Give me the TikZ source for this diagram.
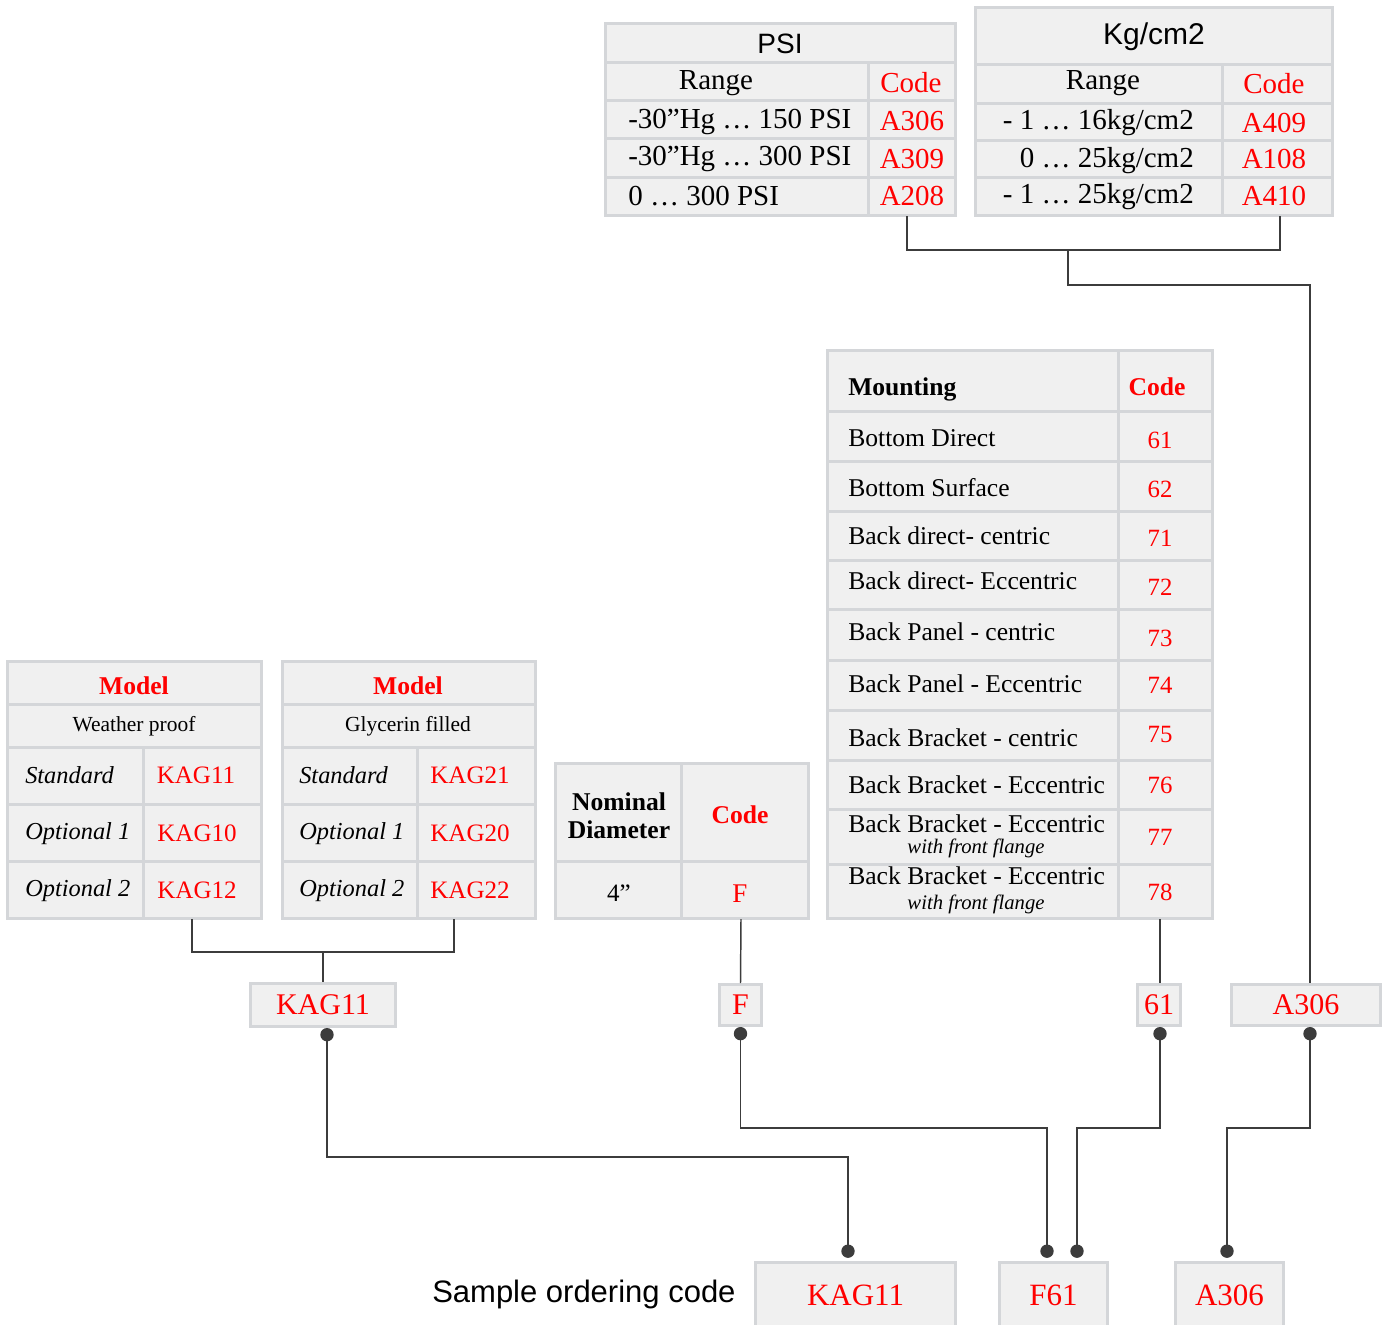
\documentclass[tikz,border=0pt]{standalone}
\usepackage{fontspec}
\setmainfont{Liberation Serif}
\newfontfamily\headsans{Liberation Sans}
\usetikzlibrary{arrows.meta}
\definecolor{cellfill}{RGB}{240,240,240}
\definecolor{cellline}{RGB}{212,214,217}
\definecolor{wiregray}{RGB}{60,60,60}
\definecolor{codered}{RGB}{255,0,0}

\begin{document}
\begin{tikzpicture}[x=0.75pt,y=0.75pt,yscale=-1,xscale=1,
  tablebox/.style={draw=cellline,fill=cellfill,line width=2.25pt},
  rule/.style={draw=cellline,line width=2.25pt},
  wire/.style={draw=wiregray,line width=1.1pt},
  link/.style={wire,{Circle[length=10pt]}-{Circle[length=10pt]},shorten >=2pt},
  headtxt/.style={anchor=base,inner sep=0pt},
  rangetxt/.style={anchor=base,inner sep=0pt,font=\fontsize{21.75}{26}\selectfont},
  rangecode/.style={rangetxt,text=codered},
  mounttxt/.style={anchor=base west,inner sep=0pt,font=\fontsize{19.2}{23}\selectfont},
  mountnote/.style={anchor=base,inner sep=0pt,font=\fontsize{15.5}{18}\selectfont\itshape},
  mountcode/.style={anchor=base,inner sep=0pt,text=codered,font=\fontsize{18.6}{22}\selectfont},
  boldtxt/.style={anchor=base,inner sep=0pt,font=\fontsize{19.2}{23}\selectfont\bfseries},
  modeltxt/.style={anchor=base west,inner sep=0pt,font=\fontsize{18.3}{22}\selectfont\itshape},
  modelcode/.style={anchor=base,inner sep=0pt,text=codered,font=\fontsize{18.8}{22}\selectfont},
  selbox/.style={draw=cellline,fill=cellfill,line width=2.25pt,text=codered,inner sep=0pt,font=\fontsize{22.5}{27}\selectfont},
  outbox/.style={selbox,font=\fontsize{23.25}{28}\selectfont}]

\useasboundingbox (0,0) rectangle (1386,1325);

% PSI table
\draw [tablebox] (605,23) rectangle (955,215) ;
\draw [rule] (605,62) -- (955,62) ;
\draw [rule] (605,100) -- (955,100) ;
\draw [rule] (605,138) -- (955,138) ;
\draw [rule] (605,177) -- (955,177) ;
\draw [rule] (868,62) -- (868,215) ;

\draw (780,53) node (psihead) [headtxt,font=\fontsize{21}{25}\headsans] {PSI};
\draw (716,89) node (psirange) [rangetxt] {Range};
\draw (911,92) node (psicode) [rangecode] {Code};
\draw (628,128) node (psiA) [rangetxt,anchor=base west] {-30”Hg … 150 PSI};
\draw (628,165) node (psiB) [rangetxt,anchor=base west] {-30”Hg … 300 PSI};
\draw (628,205) node (psiC) [rangetxt,anchor=base west] {0 … 300 PSI};
\draw (912,130) node (psicA) [rangecode] {A306};
\draw (912,168) node (psicB) [rangecode] {A309};
\draw (912,205) node (psicC) [rangecode] {A208};

% Kg/cm2 table
\draw [tablebox] (975,7) rectangle (1332,215) ;
\draw [rule] (975,64) -- (1332,64) ;
\draw [rule] (975,103) -- (1332,103) ;
\draw [rule] (975,140) -- (1332,140) ;
\draw [rule] (975,177) -- (1332,177) ;
\draw [rule] (1222,64) -- (1222,215) ;

\draw (1154,44) node (kghead) [headtxt,font=\fontsize{22.5}{27}\headsans] {Kg/cm2};
\draw (1103,89) node (kgrange) [rangetxt] {Range};
\draw (1274,93) node (kgcode) [rangecode] {Code};
\draw (1194,129) node (kgA) [rangetxt,anchor=base east] {- 1 … 16kg/cm2};
\draw (1194,167) node (kgB) [rangetxt,anchor=base east] {0 … 25kg/cm2};
\draw (1194,203) node (kgC) [rangetxt,anchor=base east] {- 1 … 25kg/cm2};
\draw (1274,132) node (kgcA) [rangecode] {A409};
\draw (1274,168) node (kgcB) [rangecode] {A108};
\draw (1274,205) node (kgcC) [rangecode] {A410};

% Mounting table
\draw [tablebox] (827,350) rectangle (1212,918) ;
\draw [rule] (827,411) -- (1212,411) ;
\draw [rule] (827,461) -- (1212,461) ;
\draw [rule] (827,511) -- (1212,511) ;
\draw [rule] (827,560) -- (1212,560) ;
\draw [rule] (827,609) -- (1212,609) ;
\draw [rule] (827,660) -- (1212,660) ;
\draw [rule] (827,710) -- (1212,710) ;
\draw [rule] (827,760) -- (1212,760) ;
\draw [rule] (827,809) -- (1212,809) ;
\draw [rule] (827,864) -- (1212,864) ;
\draw [rule] (1118,350) -- (1118,918) ;

\draw (848,395) node (mhead) [boldtxt,anchor=base west] {Mounting};
\draw (1157,395) node (mcode) [boldtxt,text=codered] {Code};
\draw (848,446) node (mA) [mounttxt] {Bottom Direct};
\draw (848,496) node (mB) [mounttxt] {Bottom Surface};
\draw (848,544) node (mC) [mounttxt] {Back direct- centric};
\draw (848,589) node (mD) [mounttxt] {Back direct- Eccentric};
\draw (848,640) node (mE) [mounttxt] {Back Panel - centric};
\draw (848,692) node (mF) [mounttxt] {Back Panel - Eccentric};
\draw (848,746) node (mG) [mounttxt] {Back Bracket - centric};
\draw (848,793) node (mH) [mounttxt] {Back Bracket - Eccentric};
\draw (848,832) node (mI) [mounttxt] {Back Bracket - Eccentric};
\draw (976,853) node (mInote) [mountnote] {with front flange};
\draw (848,884) node (mJ) [mounttxt] {Back Bracket - Eccentric};
\draw (976,909) node (mJnote) [mountnote] {with front flange};
\draw (1160,448) node (mcA) [mountcode] {61};
\draw (1160,497) node (mcB) [mountcode] {62};
\draw (1160,546) node (mcC) [mountcode] {71};
\draw (1160,595) node (mcD) [mountcode] {72};
\draw (1160,646) node (mcE) [mountcode] {73};
\draw (1160,693) node (mcF) [mountcode] {74};
\draw (1160,742) node (mcG) [mountcode] {75};
\draw (1160,793) node (mcH) [mountcode] {76};
\draw (1160,845) node (mcI) [mountcode] {77};
\draw (1160,900) node (mcJ) [mountcode] {78};

% Model tables
\draw [tablebox] (7,661) rectangle (261,918) ;
\draw [rule] (7,704) -- (261,704) ;
\draw [rule] (7,747) -- (261,747) ;
\draw [rule] (7,804) -- (261,804) ;
\draw [rule] (7,861) -- (261,861) ;
\draw [rule] (143,747) -- (143,918) ;

\draw (134,694) node (wphead) [boldtxt,text=codered] {Model};
\draw (134,731) node (wpname) [headtxt,font=\fontsize{16.1}{19}\selectfont] {Weather proof};
\draw (25,783) node (wpA) [modeltxt] {Standard};
\draw (25,839) node (wpB) [modeltxt] {Optional 1};
\draw (25,896) node (wpC) [modeltxt] {Optional 2};
\draw (196,783) node (wpcA) [modelcode] {KAG11};
\draw (197,841) node (wpcB) [modelcode] {KAG10};
\draw (197,898) node (wpcC) [modelcode] {KAG12};

\draw [tablebox] (282,661) rectangle (535,918) ;
\draw [rule] (282,704) -- (535,704) ;
\draw [rule] (282,747) -- (535,747) ;
\draw [rule] (282,804) -- (535,804) ;
\draw [rule] (282,861) -- (535,861) ;
\draw [rule] (417,747) -- (417,918) ;

\draw (408,694) node (gfhead) [boldtxt,text=codered] {Model};
\draw (408,731) node (gfname) [headtxt,font=\fontsize{16.1}{19}\selectfont] {Glycerin filled};
\draw (299,783) node (gfA) [modeltxt] {Standard};
\draw (299,839) node (gfB) [modeltxt] {Optional 1};
\draw (299,896) node (gfC) [modeltxt] {Optional 2};
\draw (470,783) node (gfcA) [modelcode] {KAG21};
\draw (470,841) node (gfcB) [modelcode] {KAG20};
\draw (470,898) node (gfcC) [modelcode] {KAG22};

% Nominal diameter table
\draw [tablebox] (555,763) rectangle (808,918) ;
\draw [rule] (555,861) -- (808,861) ;
\draw [rule] (681,763) -- (681,918) ;

\draw (619,810) node (nomA) [boldtxt] {Nominal};
\draw (619,838) node (nomB) [boldtxt] {Diameter};
\draw (740,823) node (nomcode) [boldtxt,text=codered] {Code};
\draw (619,901) node (nomsize) [modelcode,text=black,font=\fontsize{18.75}{22}\selectfont] {4”};
\draw (740,902) node (nomF) [modelcode,font=\fontsize{20.25}{24}\selectfont] {F};

% selected codes
\draw (323,1005) node (kagsel) [selbox,minimum width=108.75pt,minimum height=32.25pt] {KAG11};
\draw (740.5,1005) node (fsel) [selbox,minimum width=31.5pt,minimum height=30.75pt] {F};
\draw (1159,1005) node (msel) [selbox,minimum width=32.25pt,minimum height=30.75pt] {61};
\draw (1306,1005) node (asel) [selbox,minimum width=111.75pt,minimum height=30.75pt] {A306};

% sample ordering code
\draw (432,1302) node (sample) [headtxt,anchor=base west,font=\fontsize{23.25}{28}\headsans] {Sample ordering code};
\draw (855.5,1295) node (kagout) [outbox,minimum width=150pt,minimum height=49.5pt] {KAG11};
\draw (1053.5,1295) node (f61out) [outbox,minimum width=81pt,minimum height=49.5pt] {F61};
\draw (1229.5,1295) node (a306out) [outbox,minimum width=81pt,minimum height=49.5pt] {A306};

% connectors from the tables
\coordinate (psibot) at (907,216) ;
\coordinate (kgbot) at (1280,216) ;
\coordinate (rangejoin) at (1068,250) ;
\coordinate (rangebend) at (1310,285) ;
\draw [wire] (psibot) -- ++(0,34) -| (kgbot) ;
\draw [wire] (rangejoin) |- (rangebend) -- ([xshift=3pt]asel.north) ;

\coordinate (wpbot) at (192,919) ;
\coordinate (gfbot) at (454,919) ;
\coordinate (modeljoin) at (323,952) ;
\draw [wire] (wpbot) -- ++(0,33) -| (gfbot) ;
\draw [wire] (modeljoin) -- (kagsel.north) ;

\coordinate (nombot) at (741,919) ;
\draw [wire] (nombot) -- (fsel.north) ;
\coordinate (mountbot) at (1160,919) ;
\draw [wire] (mountbot) -- ([xshift=0.75pt]msel.north) ;

% connectors to the ordering code
\coordinate (kagbend) at (848,1157) ;
\coordinate (fbend) at (1047,1128) ;
\coordinate (mbend) at (1077,1128) ;
\coordinate (abend) at (1227,1128) ;
\draw [link] ([xshift=3pt]kagsel.south) |- (kagbend) -- (kagbend |- kagout.north) ;
\draw [link] (fsel.south) |- (fbend) -- (fbend |- f61out.north) ;
\draw [link] ([xshift=0.75pt]msel.south) |- (mbend) -- (mbend |- f61out.north) ;
\draw [link] ([xshift=3pt]asel.south) |- (abend) -- (abend |- a306out.north) ;

\end{tikzpicture}
\end{document}
